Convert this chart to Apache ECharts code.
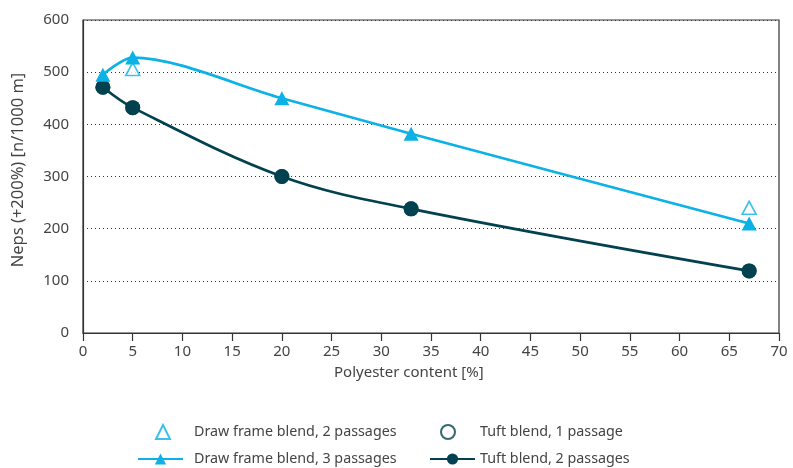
<!DOCTYPE html>
<html>
<head>
<meta charset="utf-8">
<script src="https://cdn.jsdelivr.net/npm/echarts@6/dist/echarts.min.js"></script>
<style>
  html, body { margin: 0; padding: 0; background: #fff; }
  #chart { width: 793px; height: 468px; }
</style>
</head>
<body>
<div id="chart"></div>
<script>
// Polyester content [%] of the sampled blends
const polyester = [2, 5, 20, 33, 67];

// Neps (+200%) per 1000 m
const drawFrame2 = [[5, 506], [67, 240]];
const drawFrame3 = [495, 528, 450, 382, 210];
const tuft1 = [471, 432, 300, 238, 119];
const tuft2 = [471, 432, 300, 238, 119];

const yTicks = [0, 100, 200, 300, 400, 500, 600];
const xTicks = [0, 5, 10, 15, 20, 25, 30, 35, 40, 45, 50, 55, 60, 65, 70];

const seriesNames = [
  'Draw frame blend, 2 passages',
  'Draw frame blend, 3 passages',
  'Tuft blend, 1 passage',
  'Tuft blend, 2 passages'
];

const BLUE = '#0cb1e6';
const TEAL = '#02414f';
const FONT = 'Noto Sans';
const TEXT = '#444';
const FS = 15;

const pair = (vals) => polyester.map((x, i) => [x, vals[i]]);

const chart = echarts.init(document.getElementById('chart'), null, { renderer: 'canvas' });

// one legend block per entry so the 2 x 2 layout can be placed freely
const legendItem = (name, left, top, width, padLeft) => ({
  orient: 'horizontal',
  left: left,
  top: top,
  itemWidth: width,
  itemHeight: 14,
  selectedMode: false,
  data: [name],
  textStyle: { fontFamily: FONT, fontSize: 14.3, color: TEXT, padding: [0, 0, 0, padLeft] }
});

chart.setOption({
  animation: false,
  textStyle: { fontFamily: FONT },
  grid: {
    left: 83, right: 14, top: 20, bottom: 135,
    show: true, borderColor: '#333', borderWidth: 1.2
  },
  xAxis: {
    type: 'value',
    min: xTicks[0], max: xTicks[xTicks.length - 1], interval: 5,
    axisLine: { show: true, lineStyle: { color: '#333', width: 1.2 } },
    axisTick: { show: true, length: 8, inside: false, lineStyle: { color: '#333', width: 1.2 } },
    axisLabel: { color: TEXT, fontSize: FS, fontFamily: FONT, margin: 11 },
    splitLine: { show: false }
  },
  yAxis: {
    type: 'value',
    min: yTicks[0], max: yTicks[yTicks.length - 1], interval: 100,
    axisLine: { show: true, lineStyle: { color: '#333', width: 1.2 } },
    axisTick: { show: false },
    axisLabel: { color: TEXT, fontSize: FS, fontFamily: FONT, margin: 14 },
    splitLine: { show: true, lineStyle: { color: '#333', type: [1, 3], width: 1 } }
  },
  graphic: [
    {
      type: 'text',
      left: 334, top: 365,
      style: { text: 'Polyester content [%]', fill: TEXT, font: FS + 'px "' + FONT + '"' }
    },
    {
      type: 'text',
      x: 18, y: 170,
      rotation: Math.PI / 2,
      style: {
        text: 'Neps (+200%) [n/1000 m]', fill: TEXT,
        font: '16.5px "' + FONT + '"', align: 'center', verticalAlign: 'middle'
      }
    }
  ],
  legend: [
    legendItem(seriesNames[0], 150, 419, 14, 19),
    legendItem(seriesNames[1], 132, 447, 45, 6),
    legendItem(seriesNames[2], 435, 419, 14, 20),
    legendItem(seriesNames[3], 424, 447, 45, 0)
  ],
  series: [
    {
      name: seriesNames[2],
      type: 'scatter',
      data: pair(tuft1),
      symbol: 'circle',
      symbolSize: 13,
      itemStyle: { color: '#fff', borderColor: TEAL, borderWidth: 2 },
      z: 1
    },
    {
      name: seriesNames[3],
      type: 'line',
      data: pair(tuft2),
      smooth: 0.35,
      symbol: 'circle',
      symbolSize: 15,
      showAllSymbol: true,
      lineStyle: { color: TEAL, width: 2.7 },
      itemStyle: { color: TEAL },
      z: 2
    },
    {
      name: seriesNames[0],
      type: 'scatter',
      data: drawFrame2,
      symbol: 'triangle',
      symbolSize: [14, 13],
      itemStyle: { color: '#fff', borderColor: BLUE, borderWidth: 1.6 },
      z: 3
    },
    {
      name: seriesNames[1],
      type: 'line',
      data: pair(drawFrame3),
      smooth: 0.3,
      symbol: 'triangle',
      symbolSize: [15, 14],
      showAllSymbol: true,
      lineStyle: { color: BLUE, width: 2.7 },
      itemStyle: { color: BLUE },
      z: 4
    }
  ]
});
</script>
</body>
</html>
